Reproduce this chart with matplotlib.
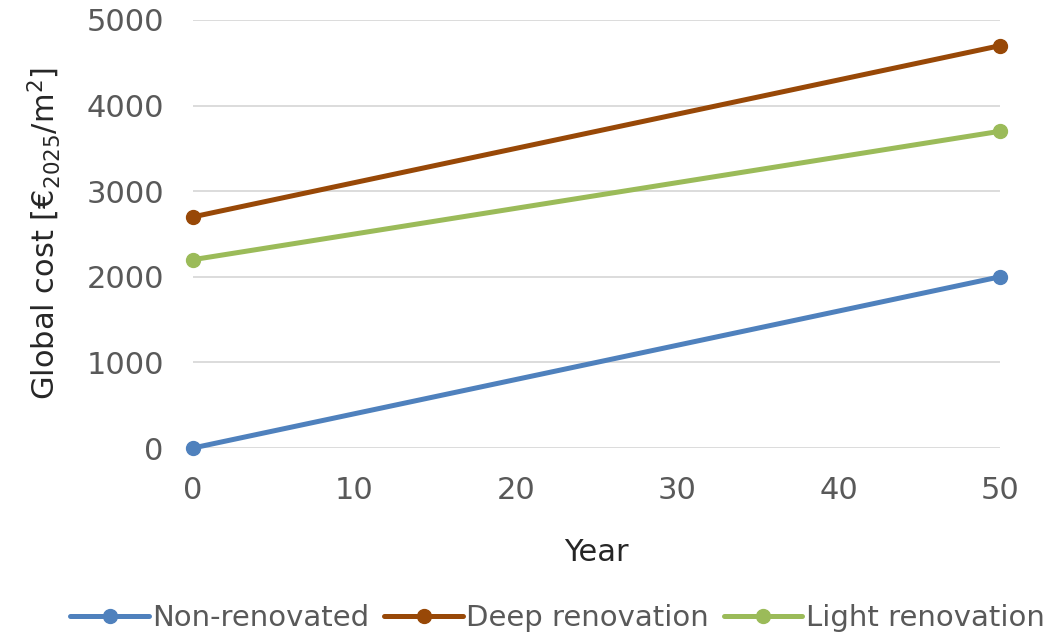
import matplotlib
matplotlib.use("Agg")
import matplotlib.pyplot as plt

years = [0, 50]
non_renovated = [0, 2000]
deep_renovation = [2700, 4700]
light_renovation = [2200, 3700]

series_names = ["Non-renovated", "Deep renovation", "Light renovation"]
series_values = [non_renovated, deep_renovation, light_renovation]
series_colors = ["#4F81BD", "#984807", "#9BBB59"]

x_ticks = [0, 10, 20, 30, 40, 50]
y_ticks = [0, 1000, 2000, 3000, 4000, 5000]

plt.rcParams["font.family"] = ["DejaVu Sans"]

fig = plt.figure(figsize=(10.48, 6.36), dpi=100)
ax = fig.add_axes([193 / 1048, 1 - 448 / 636, (1000 - 193) / 1048, (448 - 20) / 636])

for name, vals, col in zip(series_names, series_values, series_colors):
    ax.plot(years, vals, color=col, lw=3.6, marker="o", markersize=10,
            label=name, clip_on=False, zorder=3, solid_capstyle="round")

ax.set_xlim(0, 50)
ax.set_ylim(0, 5000)
ax.set_xticks(x_ticks)
ax.set_yticks(y_ticks)
ax.grid(axis="y", color="#D9D9D9", lw=1.3)
ax.set_axisbelow(True)
for s in ax.spines.values():
    s.set_visible(False)
ax.tick_params(length=0, labelsize=22, colors="#595959")
ax.tick_params(axis="y", pad=21)
ax.tick_params(axis="x", pad=20)

ax.set_xlabel("Year", fontsize=22, color="#262626", labelpad=24)
ax.set_ylabel("Global cost [€$_{2025}$/m$^2$]", fontsize=22, color="#262626", labelpad=17)

leg = fig.legend(loc="lower center", bbox_to_anchor=(0.532, -0.035), ncol=3, frameon=False,
                 fontsize=21, handlelength=2.7, handletextpad=0.12, columnspacing=0.5,
                 labelcolor="#595959")

fig.savefig("out.png", dpi=100)
